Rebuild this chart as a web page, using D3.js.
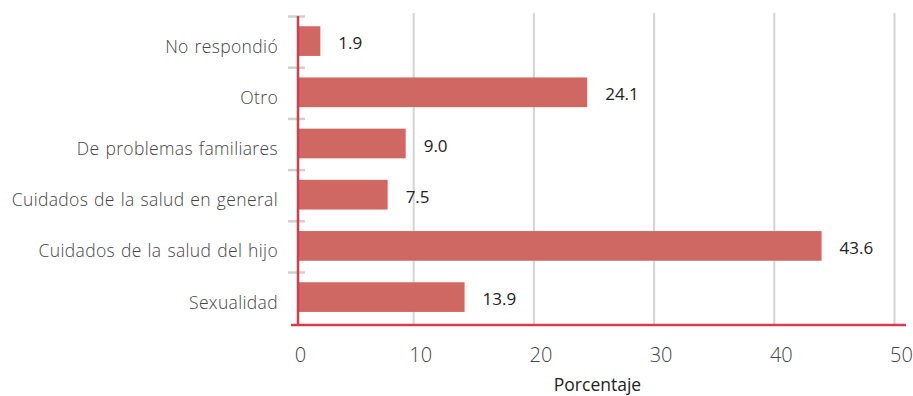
<!DOCTYPE html>
<html>
<head>
<meta charset="utf-8">
<script src="https://cdn.jsdelivr.net/npm/d3@7"></script>
<style>
  html, body { margin: 0; padding: 0; background: #fff; }
  svg { display: block; }
</style>
</head>
<body>
<svg id="chart" width="913" height="396"></svg>
<script>
// Categories listed top to bottom, with their percentages
const categories = [
  "No respondió",
  "Otro",
  "De problemas familiares",
  "Cuidados de la salud en general",
  "Cuidados de la salud del hijo",
  "Sexualidad"
];
const values = [1.9, 24.1, 9.0, 7.5, 43.6, 13.9];
const xTicks = [0, 10, 20, 30, 40, 50];
const xTitle = "Porcentaje";

const svg = d3.select("#chart");
const font = "'Open Sans', Lato, sans-serif";

const x = d3.scaleLinear().domain([0, 50]).range([297.5, 898.5]);
const y = d3.scaleBand().domain(categories).range([15.5, 322.7]).paddingInner(0.42).paddingOuter(0.21);
const gridShift = -4;

// Vertical gridlines
svg.append("g").selectAll("line").data(xTicks.slice(1)).join("line")
  .attr("x1", d => x(d) + gridShift).attr("x2", d => x(d) + gridShift)
  .attr("y1", 13).attr("y2", 325)
  .attr("stroke", "#d4d4d4").attr("stroke-width", 2);

// Small separator ticks on the category axis
const step = y.step();
const sepYs = d3.range(categories.length).map(i => y.range()[0] + i * step + 1);
svg.append("g").selectAll("line").data(sepYs).join("line")
  .attr("x1", 288).attr("x2", 305)
  .attr("y1", d => d).attr("y2", d => d)
  .attr("stroke", "#d0d0d0").attr("stroke-width", 2.5);

// Soft shadow under the axes
const defs = svg.append("defs");
const f = defs.append("filter").attr("id", "shadow")
  .attr("x", "-5%").attr("y", "-50%").attr("width", "110%").attr("height", "300%");
f.append("feGaussianBlur").attr("stdDeviation", 2);
svg.append("line").attr("x1", 293).attr("x2", 909).attr("y1", 328).attr("y2", 328)
  .attr("stroke", "#bbb").attr("stroke-width", 2).attr("filter", "url(#shadow)");
svg.append("line").attr("x1", 301).attr("x2", 301).attr("y1", 18).attr("y2", 328)
  .attr("stroke", "#ccc").attr("stroke-width", 2).attr("filter", "url(#shadow)");

// Bars
svg.append("g").selectAll("rect").data(values).join("rect")
  .attr("x", x(0))
  .attr("y", (d, i) => y(categories[i]))
  .attr("width", d => x(d) - x(0))
  .attr("height", y.bandwidth())
  .attr("fill", "#cf6862");

// Value labels
svg.append("g").selectAll("text").data(values).join("text")
  .attr("x", d => x(d) + 18)
  .attr("y", (d, i) => y(categories[i]) + y.bandwidth() / 2 + 8)
  .attr("font-family", font).attr("font-size", 17).attr("font-weight", 500)
  .attr("fill", "#222")
  .text(d => d.toFixed(1));

// Axis lines in red
svg.append("line").attr("x1", 298).attr("x2", 298).attr("y1", 16).attr("y2", 326)
  .attr("stroke", "#d93a4c").attr("stroke-width", 2.5);
svg.append("line").attr("x1", 291).attr("x2", 906).attr("y1", 325).attr("y2", 325)
  .attr("stroke", "#d93a4c").attr("stroke-width", 2.5);

// Category labels
svg.append("g").selectAll("text").data(categories).join("text")
  .attr("x", 278)
  .attr("y", d => y(d) + y.bandwidth() / 2 + 11.5)
  .attr("text-anchor", "end")
  .attr("font-family", font).attr("font-size", 17.5).attr("font-weight", 300)
  .attr("letter-spacing", 0.35).attr("word-spacing", 1)
  .attr("fill", "#444")
  .text(d => d);

// X tick labels
svg.append("g").selectAll("text").data(xTicks).join("text")
  .attr("x", d => x(d) + 3)
  .attr("y", 362)
  .attr("text-anchor", "middle")
  .attr("font-family", font).attr("font-size", 20).attr("font-weight", 300)
  .attr("fill", "#444")
  .text(d => d);

// Axis title
svg.append("text")
  .attr("x", 597.5).attr("y", 391)
  .attr("text-anchor", "middle")
  .attr("font-family", font).attr("font-size", 17.5).attr("font-weight", 500)
  .attr("fill", "#222")
  .text(xTitle);
</script>
</body>
</html>
